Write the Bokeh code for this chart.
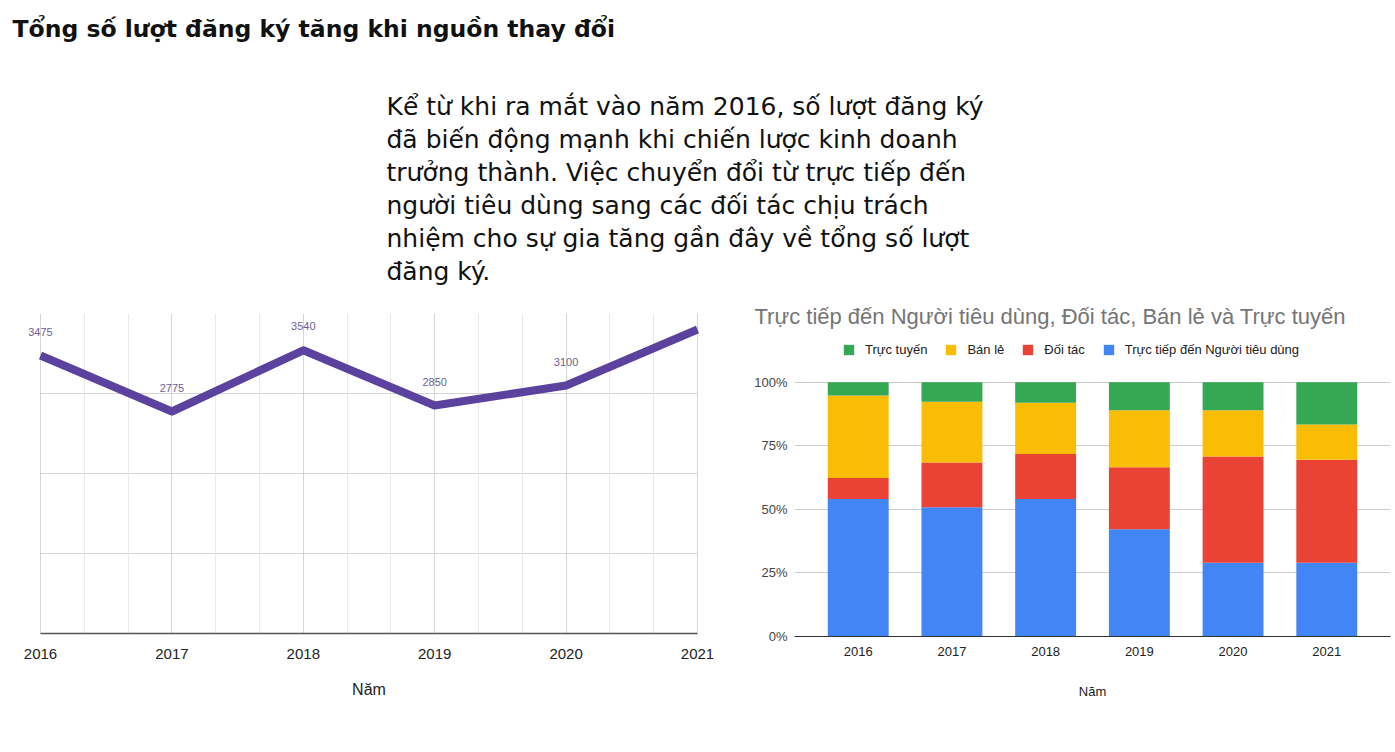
from bokeh.plotting import figure
from bokeh.layouts import column, row
from bokeh.models import (Range1d, FactorRange, FixedTicker, Grid, LabelSet, Title,
                          Legend, LegendItem, ColumnDataSource, PrintfTickFormatter)
from bokeh.core.properties import value
from bokeh.embed import file_html
from bokeh.resources import INLINE

# ---------------- data ----------------
title_text = "Tổng số lượt đăng ký tăng khi nguồn thay đổi"
paragraph_lines = [
    "Kể từ khi ra mắt vào năm 2016, số lượt đăng ký",
    "đã biến động mạnh khi chiến lược kinh doanh",
    "trưởng thành. Việc chuyển đổi từ trực tiếp đến",
    "người tiêu dùng sang các đối tác chịu trách",
    "nhiệm cho sự gia tăng gần đây về tổng số lượt",
    "đăng ký.",
]
years = [2016, 2017, 2018, 2019, 2020, 2021]
subscriptions = [3475, 2775, 3540, 2850, 3100, 3800]
labeled_count = 5  # last point has no data label

year_labels = ["2016", "2017", "2018", "2019", "2020", "2021"]
direct = [54.1, 50.9, 54.1, 42.2, 29.0, 29.0]
partners = [8.3, 17.6, 17.7, 24.4, 41.8, 40.5]
retail = [32.4, 23.9, 20.2, 22.4, 18.2, 13.9]
online = [5.2, 7.6, 8.0, 11.0, 11.0, 16.6]
series_names = ["Trực tiếp đến Người tiêu dùng", "Đối tác", "Bán lẻ", "Trực tuyến"]
series_colors = ["#4285F4", "#EA4335", "#FBBC04", "#34A853"]
bar_chart_title = "Trực tiếp đến Người tiêu dùng, Đối tác, Bán lẻ và Trực tuyến"
pct_ticks = [0, 25, 50, 75, 100]
sub_ticks = [0, 1000, 2000, 3000, 4000]

SANS = "'Liberation Sans', Arial, sans-serif"
HEAD = "'DejaVu Sans', sans-serif"


def make_grid(dim, ticker, cross, **kw):
    g = Grid(dimension=dim, ticker=ticker, **kw)
    if "cross_bounds" in Grid.properties():
        g.cross_bounds = cross
    return g


# ---------------- top band (title + paragraph) ----------------
top = figure(width=1395, height=290, x_range=Range1d(0, 1395), y_range=Range1d(290, 0),
             output_backend="svg", toolbar_location=None, min_border=0,
             x_axis_location=None, y_axis_location=None, outline_line_color=None)
top.grid.visible = False
top.text(x=[12], y=[28], text=[title_text], text_font=value(HEAD),
         text_font_style="bold", text_font_size="23.5px", text_baseline="middle",
         text_color="#111111")
top.text(x=[386] * len(paragraph_lines),
         y=[106 + 33 * i for i in range(len(paragraph_lines))],
         text=paragraph_lines, text_font=value(HEAD), text_font_size="25px",
         text_baseline="middle", text_color="#111111")

# ---------------- left line chart ----------------
pad = 16 / 131.4
left = figure(width=740, height=462, x_range=Range1d(2016 - pad, 2021 + pad),
              y_range=Range1d(0, 4000),
              output_backend="svg", toolbar_location=None, y_axis_location=None,
              min_border_left=24, min_border_right=27, min_border_top=23,
              min_border_bottom=119, outline_line_color=None)
left.grid.visible = False
left.add_layout(make_grid(1, FixedTicker(ticks=sub_ticks), (years[0], years[-1]),
                          grid_line_color="#d4d4d4"))
left.add_layout(make_grid(0, FixedTicker(ticks=years,
                                         minor_ticks=[2016 + k / 3 for k in range(16)]),
                          (sub_ticks[0], sub_ticks[-1]),
                          grid_line_color="#d4d4d4", minor_grid_line_color="#e9e9e9"))
left.line(x=years, y=subscriptions, line_width=8, line_color="#5c429f",
          line_join="round", line_cap="butt")
lab_src = ColumnDataSource(dict(x=years[:labeled_count], y=subscriptions[:labeled_count],
                                t=[str(v) for v in subscriptions[:labeled_count]]))
left.add_layout(LabelSet(x="x", y="y", text="t", source=lab_src, y_offset=24,
                         text_align="center", text_baseline="middle",
                         text_font=value(SANS), text_font_size="11px",
                         text_color="#6d6192"))
xa = left.xaxis[0]
xa.ticker = FixedTicker(ticks=years)
xa.bounds = (years[0], years[-1])
xa.major_tick_line_color = None
xa.minor_tick_line_color = None
xa.major_tick_out = 0
xa.major_tick_in = 0
xa.major_label_standoff = 15
xa.major_label_text_font = SANS
xa.major_label_text_font_size = "15px"
xa.major_label_text_color = "#222222"
xa.axis_line_color = "#555555"
xa.axis_line_width = 1.5
xa.axis_label = "Năm"
xa.axis_label_text_font = SANS
xa.axis_label_text_font_size = "16px"
xa.axis_label_text_font_style = "normal"
xa.axis_label_text_color = "#222222"
xa.axis_label_standoff = 19

# ---------------- right stacked bar chart ----------------
src = ColumnDataSource(dict(year=year_labels, direct=direct, partners=partners,
                            retail=retail, online=online))
right = figure(width=655, height=462,
               x_range=FactorRange(*year_labels, range_padding=0.06),
               y_range=Range1d(0, 100 * 298 / 255), output_backend="svg",
               toolbar_location=None,
               min_border_left=54, min_border_right=5, min_border_top=48,
               min_border_bottom=116, outline_line_color=None)
rs = right.vbar_stack(["direct", "partners", "retail", "online"], x="year", width=0.65,
                      color=series_colors, source=src, line_color=None)
right.xgrid.visible = False
ya = right.yaxis[0]
ya.ticker = FixedTicker(ticks=pct_ticks)
right.ygrid.grid_line_color = "#cccccc"
ya.formatter = PrintfTickFormatter(format="%d%%")
ya.axis_line_color = None
ya.major_tick_line_color = None
ya.minor_tick_line_color = None
ya.major_tick_out = 0
ya.major_label_standoff = 7
ya.major_label_text_font = SANS
ya.major_label_text_font_size = "13px"
ya.major_label_text_color = "#444444"
xb = right.xaxis[0]
xb.major_tick_line_color = None
xb.major_tick_out = 0
xb.major_label_standoff = 10
xb.major_label_text_font = SANS
xb.major_label_text_font_size = "13px"
xb.major_label_text_color = "#222222"
xb.axis_line_color = "#333333"
xb.axis_line_width = 1.2
xb.axis_label = "Năm"
xb.axis_label_text_font = SANS
xb.axis_label_text_font_size = "13px"
xb.axis_label_text_font_style = "normal"
xb.axis_label_text_color = "#222222"
xb.axis_label_standoff = 25

legend = Legend(items=[LegendItem(label=series_names[i], renderers=[rs[i]]) for i in [3, 2, 1, 0]],
                location=(48, 279), orientation="horizontal", padding=0, margin=0,
                spacing=17, glyph_width=13, glyph_height=13, label_standoff=10,
                label_height=13, label_text_font=SANS, label_text_font_size="13px",
                label_text_color="#222222", background_fill_alpha=0,
                border_line_color=None)
right.add_layout(legend, "center")
right.title = Title(text=bar_chart_title, align="left", offset=-40, standoff=22,
                    text_font=SANS, text_font_size="22px", text_font_style="normal",
                    text_color="#757575")

layout = column(top, row(left, column(right)))
open("out.html", "w").write(file_html(layout, INLINE))
